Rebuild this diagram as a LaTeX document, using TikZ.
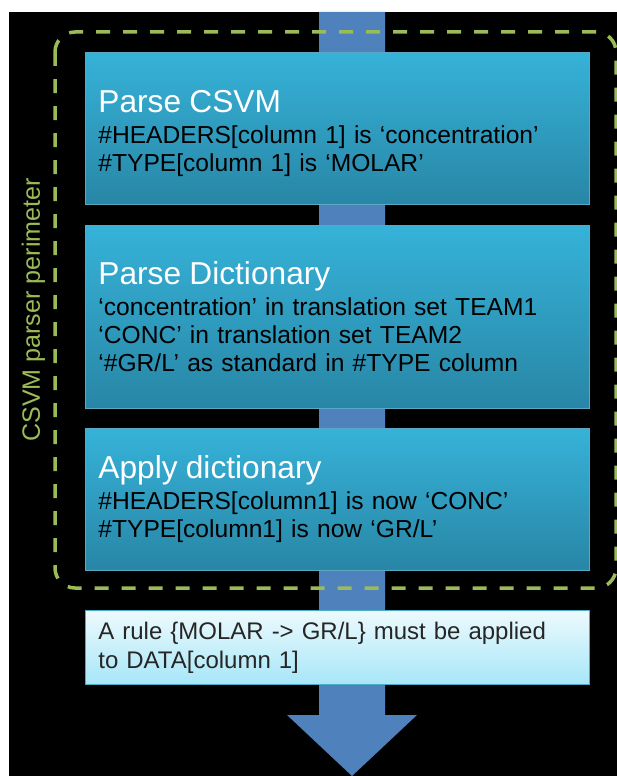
\documentclass[tikz,border=0pt]{standalone}
\usepackage{fontspec}
\setmainfont{Liberation Sans}
\usetikzlibrary{positioning}
\definecolor{perim}{HTML}{9BBB59}
\definecolor{flowblue}{HTML}{4F81BD}
\definecolor{stagetop}{HTML}{36B2D8}
\definecolor{stagebottom}{HTML}{2886A6}
\definecolor{stageedge}{HTML}{5AA9C4}
\definecolor{resulttop}{HTML}{EDFAFD}
\definecolor{resultbottom}{HTML}{A6E6F8}
\definecolor{resultedge}{HTML}{4BACC6}
\newcommand\stagetitle[1]{{\fontsize{31.7}{32}\selectfont\color{white}#1}\\[3pt]}

\begin{document}
\begin{tikzpicture}[x=1pt,y=-1pt]
	\tikzset{stage/.style={rectangle, draw=stageedge, line width=.8pt, top color=stagetop, bottom color=stagebottom,
			minimum width=504pt, text width=478pt, inner xsep=13pt, align=left, font=\fontsize{24.6}{28}\selectfont},
		result/.style={rectangle, draw=resultedge, line width=.8pt, top color=resulttop, bottom color=resultbottom,
			minimum width=504pt, minimum height=74pt, text width=478pt, inner xsep=13pt, align=left, text=black!85,
			font=\fontsize{24}{29}\selectfont},
	}
	\useasboundingbox (0,0) rectangle (617,776);
	\fill[black] (9,12) rectangle (617,776);
	
	% big flow arrow behind the stages
	\fill[flowblue] (319,12) -- (385,12) -- (385,715) -- (417,715) -- (352,776) -- (287,715) -- (319,715) -- cycle;
	
	% parser perimeter
	\draw[perim, line width=3.5pt, dash pattern=on 14pt off 13pt, rounded corners=20pt] (55,32) rectangle (616,588);
	\node[text=perim, rotate=90, font=\fontsize{25.1}{26}\selectfont] (perimlabel) at (33.5,310) {CSVM parser perimeter};
	
	\node [stage, minimum height=152pt, anchor=north west] (csvm) at (85,52) {\stagetitle{\rule{0pt}{32pt}Parse CSVM}
		\#HEADERS[column 1] is ‘concentration’\\
		\#TYPE[column 1] is ‘MOLAR’};
	\node [stage, minimum height=183pt, below = 20pt of csvm] (dict) {\stagetitle{Parse Dictionary}
		‘concentration’ in translation set TEAM1\\
		‘CONC’ in translation set TEAM2\\
		‘\#GR/L’ as standard in \#TYPE column};
	\node [stage, minimum height=142pt, below = 19pt of dict] (apply) {\stagetitle{Apply dictionary}
		\#HEADERS[column1] is now ‘CONC’\\
		\#TYPE[column1] is now ‘GR/L’};
	\node [result, below = 40pt of apply] (rule) {A rule \{MOLAR -> GR/L\} must be applied\\
		to DATA[column 1]};
\end{tikzpicture}
\end{document}
